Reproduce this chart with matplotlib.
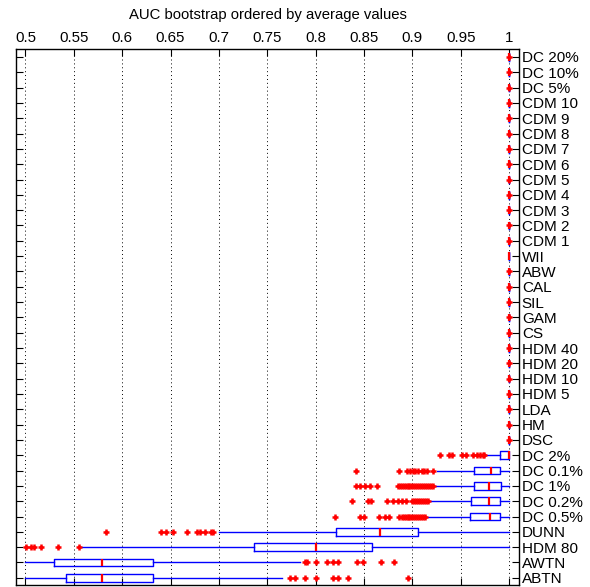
import matplotlib
matplotlib.use("Agg")
import matplotlib.pyplot as plt

# Methods listed top to bottom
methods = ["DC 20%", "DC 10%", "DC 5%", "CDM 10", "CDM 9", "CDM 8", "CDM 7",
           "CDM 6", "CDM 5", "CDM 4", "CDM 3", "CDM 2", "CDM 1", "WII", "ABW",
           "CAL", "SIL", "GAM", "CS", "HDM 40", "HDM 20", "HDM 10", "HDM 5",
           "LDA", "HM", "DSC", "DC 2%", "DC 0.1%", "DC 1%", "DC 0.2%",
           "DC 0.5%", "DUNN", "HDM 80", "AWTN", "ABTN"]

n_perfect = 26  # DC 20% .. DSC collapse onto AUC = 1

whisker_low = [1.0] * n_perfect + [0.9757, 0.9252, 0.9235, 0.9178, 0.9149,
                                   0.7006, 0.5564, 0.5000, 0.5000]
q1 = [1.0] * n_perfect + [0.9907, 0.9641, 0.9638, 0.9604, 0.9597,
                          0.8211, 0.7366, 0.5295, 0.5416]
median = [1.0] * n_perfect + [1.0, 0.9811, 0.9796, 0.9796, 0.9804,
                              0.8666, 0.8004, 0.5794, 0.5794]
q3 = [1.0] * n_perfect + [1.0, 0.9910, 0.9912, 0.9910, 0.9910,
                          0.9062, 0.8580, 0.6322, 0.6322]
whisker_high = [1.0] * n_perfect + [1.0, 1.0, 1.0, 1.0, 1.0,
                                    1.0, 1.0, 0.7839, 0.7650]

outliers = [[0.9995]] * 13 + [[]] + [[0.9995]] * 12 + [
    # DC 2%
    [0.9287, 0.9380, 0.9407, 0.9511, 0.9552, 0.9623, 0.9666, 0.9700, 0.9728, 0.9745],
    # DC 0.1%
    [0.8413, 0.8862, 0.8942, 0.8976, 0.9007, 0.9028, 0.9062, 0.9097, 0.9121,
     0.9149, 0.9217],
    # DC 1%
    [0.8418, 0.8459, 0.8511, 0.8563, 0.8638, 0.8852, 0.887, 0.889, 0.891, 0.893,
     0.895, 0.897, 0.899, 0.901, 0.903, 0.905, 0.907, 0.909, 0.911, 0.913, 0.915,
     0.917, 0.919, 0.921],
    # DC 0.2%
    [0.8380, 0.8545, 0.8570, 0.8735, 0.8804, 0.8855, 0.8893, 0.8938, 0.900,
     0.902, 0.904, 0.906, 0.908, 0.910, 0.912, 0.914, 0.916],
    # DC 0.5%
    [0.8201, 0.8459, 0.8501, 0.8653, 0.8713, 0.8762, 0.8859, 0.889, 0.891, 0.893,
     0.895, 0.897, 0.899, 0.901, 0.903, 0.905, 0.907, 0.909, 0.911, 0.913],
    # DUNN
    [0.5829, 0.6398, 0.6453, 0.6522, 0.6673, 0.6770, 0.6805, 0.6856, 0.6915, 0.6939],
    # HDM 80
    [0.5002, 0.5054, 0.5088, 0.5160, 0.5333, 0.5553],
    # AWTN
    [0.7890, 0.7911, 0.8004, 0.8118, 0.8180, 0.8231, 0.8428, 0.8490, 0.8676, 0.8810],
    # ABTN
    [0.7735, 0.7782, 0.7890, 0.8004, 0.8180, 0.8231, 0.8335, 0.8955],
]

x_ticks = [0.5, 0.55, 0.6, 0.65, 0.7, 0.75, 0.8, 0.85, 0.9, 0.95, 1.0]
x_tick_labels = ["0.5", "0.55", "0.6", "0.65", "0.7", "0.75", "0.8", "0.85",
                 "0.9", "0.95", "1"]

plt.rcParams["font.family"] = ["Liberation Sans", "DejaVu Sans"]

fig = plt.figure(figsize=(5.90, 5.87), dpi=100)
ax = fig.add_axes([0.0271, 0.0026, 0.8526, 0.9134])

n = len(methods)
positions = list(range(n, 0, -1))
stats = []
for i, name in enumerate(methods):
    stats.append(dict(label=name, whislo=whisker_low[i], q1=q1[i], med=median[i],
                      q3=q3[i], whishi=whisker_high[i], fliers=outliers[i]))

ax.bxp(stats, positions=positions, orientation="horizontal", widths=0.5,
       showcaps=False, manage_ticks=False,
       boxprops=dict(color="#0000ff", linewidth=1.0),
       whiskerprops=dict(color="#0000ff", linewidth=1.0, linestyle="-"),
       medianprops=dict(color="#ff0000", linewidth=1.6, zorder=4),
       flierprops=dict(marker="+", markeredgecolor="#ff0000",
                       markerfacecolor="#ff0000", markersize=5,
                       markeredgewidth=1.8, linestyle="none", zorder=5))

# dotted vertical grid
for xv in x_ticks:
    ax.axvline(xv, color="black", linestyle=(0, (1, 3)), linewidth=0.7, zorder=0)

ax.set_xlim(0.4902, 1.0103)
ax.set_ylim(0.5, n + 0.5)

ax.set_xticks(x_ticks)
ax.set_xticklabels(x_tick_labels)
ax.xaxis.set_ticks_position("both")
ax.xaxis.set_label_position("top")
ax.tick_params(axis="x", which="both", direction="in", length=5, width=0.8,
               top=True, bottom=True, labeltop=True, labelbottom=False,
               labelsize=10.8, pad=3)

ax.set_yticks(positions)
ax.set_yticklabels(methods)
ax.tick_params(axis="y", which="both", direction="in", length=5, width=0.8,
               left=True, right=True, labelleft=False, labelright=True,
               labelsize=11, pad=2)

for sp in ax.spines.values():
    sp.set_linewidth(1.0)
    sp.set_color("black")

ax.set_title("AUC bootstrap ordered by average values", fontsize=10.7, pad=22)

fig.savefig("out.png", dpi=100)
